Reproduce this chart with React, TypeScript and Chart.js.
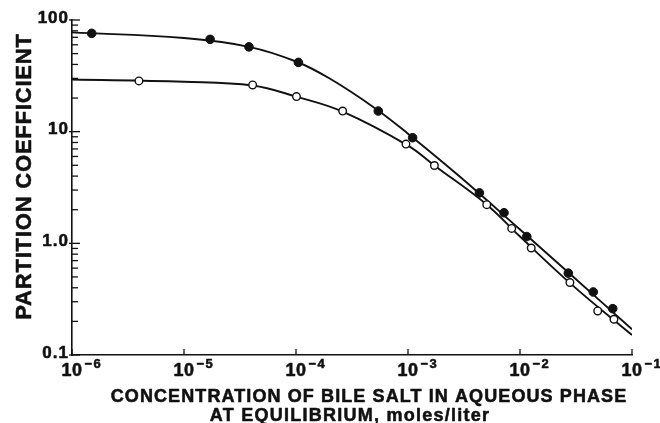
import React, { useEffect, useRef } from "react";
import { Chart, registerables } from "chart.js";

Chart.register(...registerables);

// Axis decades and their labels
const X_DECADES = [1e-6, 1e-5, 1e-4, 1e-3, 1e-2, 1e-1];
const X_EXPONENTS = ["−6", "−5", "−4", "−3", "−2", "−1"];
const Y_DECADES = [0.1, 1, 10, 100];
const Y_TICK_LABELS = ["0.1", "1.0", "10", "100"];
const Y_MINOR_STEPS = [2, 3, 4, 5, 6, 7, 8, 9];

// Measured partition coefficients (filled circles)
const filledX = [1.5e-6, 1.71e-5, 3.8e-5, 1.05e-4, 5.43e-4, 1.1e-3, 4.34e-3, 7.2e-3, 1.15e-2, 2.7e-2, 4.51e-2, 6.73e-2];
const filledY = [75.9, 67.1, 57.5, 41.7, 15.3, 8.83, 2.83, 1.88, 1.15, 0.541, 0.367, 0.26];

// Measured partition coefficients (open circles)
const openX = [3.96e-6, 4.1e-5, 1.01e-4, 2.61e-4, 9.59e-4, 1.72e-3, 5.05e-3, 8.43e-3, 1.26e-2, 2.79e-2, 4.94e-2, 6.9e-2];
const openY = [28.5, 26.2, 20.6, 15.3, 7.74, 4.98, 2.22, 1.36, 0.908, 0.446, 0.248, 0.209];

// Fitted curves drawn through each set
const filledCurveX = [1e-6, 1e-5, 3.8e-5, 1e-4, 2e-4, 5e-4, 1e-3, 3e-3, 1e-2, 3e-2, 1e-1];
const filledCurveY = [77.5, 68.9, 57.5, 42.5, 29.9, 16.4, 9.6, 3.85, 1.33, 0.499, 0.17];
const openCurveX = [1e-6, 1e-5, 4.1e-5, 1e-4, 2.61e-4, 1e-3, 1.72e-3, 5.05e-3, 1e-2, 3e-2, 1e-1];
const openCurveY = [29.3, 28.0, 25.9, 20.6, 15.1, 7.5, 4.98, 2.22, 1.15, 0.414, 0.151];

const Y_TITLE = "PARTITION COEFFICIENT";
const X_TITLE_1 = "CONCENTRATION OF BILE SALT IN AQUEOUS PHASE";
const X_TITLE_2 = "AT EQUILIBRIUM, moles/liter";

const INK = "#111";
const FONT = '"Liberation Sans", Arial, Helvetica, sans-serif';

const zip = (xs: number[], ys: number[]) => xs.map((x, i) => ({ x, y: ys[i] }));

// Filled text with a thin outline so the lettering reads heavy
function heavyText(ctx: CanvasRenderingContext2D, text: string, x: number, y: number) {
  ctx.fillText(text, x, y);
  ctx.lineWidth = 0.55;
  ctx.strokeText(text, x, y);
}

// Draws inward tick marks, tick labels and axis titles
const axisDecor = {
  id: "axisDecor",
  afterDraw(chart: any) {
    const { ctx, chartArea } = chart;
    const xs = chart.scales.x;
    const ys = chart.scales.y;
    const left = chartArea.left;
    const bottom = chartArea.bottom;
    ctx.save();
    ctx.strokeStyle = INK;
    ctx.fillStyle = INK;
    ctx.lineJoin = "round";

    // y ticks: majors and minors pointing into the plot
    ctx.lineWidth = 1.3;
    Y_DECADES.forEach((d, i) => {
      const py = ys.getPixelForValue(d);
      ctx.beginPath();
      ctx.moveTo(left - 3, py);
      ctx.lineTo(left + 8, py);
      ctx.stroke();
      if (i < Y_DECADES.length - 1) {
        Y_MINOR_STEPS.forEach((m) => {
          const my = ys.getPixelForValue(d * m);
          ctx.beginPath();
          ctx.moveTo(left, my);
          ctx.lineTo(left + 6, my);
          ctx.stroke();
        });
      }
    });

    // x ticks at each decade
    X_DECADES.forEach((d) => {
      const px = xs.getPixelForValue(d);
      ctx.beginPath();
      ctx.moveTo(px, bottom);
      ctx.lineTo(px, bottom - 6);
      ctx.stroke();
    });

    // y tick labels
    ctx.font = `bold 17px ${FONT}`;
    (ctx as any).letterSpacing = "1px";
    ctx.textAlign = "right";
    ctx.textBaseline = "middle";
    Y_DECADES.forEach((d, i) => {
      const py = ys.getPixelForValue(d);
      heavyText(ctx, Y_TICK_LABELS[i], left - 3, py - 2);
    });

    // x tick labels: 10 with a raised exponent
    ctx.textBaseline = "alphabetic";
    X_DECADES.forEach((d, i) => {
      const px = xs.getPixelForValue(d);
      ctx.font = `bold 18px ${FONT}`;
      (ctx as any).letterSpacing = "0.5px";
      ctx.textAlign = "center";
      heavyText(ctx, "10", px, bottom + 21);
      const w = ctx.measureText("10").width;
      ctx.font = `bold 13px ${FONT}`;
      (ctx as any).letterSpacing = "1.5px";
      ctx.textAlign = "left";
      heavyText(ctx, X_EXPONENTS[i], px + w / 2 + 2, bottom + 13);
    });

    // x title, two lines
    const cx = (chartArea.left + chartArea.right) / 2;
    ctx.textAlign = "center";
    ctx.font = `bold 18px ${FONT}`;
    (ctx as any).letterSpacing = "1.1px";
    heavyText(ctx, X_TITLE_1, cx + 17, bottom + 47);
    (ctx as any).letterSpacing = "1.25px";
    heavyText(ctx, X_TITLE_2, cx - 2, bottom + 66);

    // y title, rotated
    const cy = (chartArea.top + chartArea.bottom) / 2;
    ctx.translate(31, cy - 11);
    ctx.rotate(-Math.PI / 2);
    ctx.font = `bold 22px ${FONT}`;
    (ctx as any).letterSpacing = "0.8px";
    ctx.textAlign = "center";
    ctx.textBaseline = "alphabetic";
    heavyText(ctx, Y_TITLE, 0, 0);
    ctx.restore();
  },
};

export default function App() {
  const canvasRef = useRef<HTMLCanvasElement | null>(null);

  useEffect(() => {
    const canvas = canvasRef.current;
    if (!canvas) return;
    const chart = new Chart(canvas, {
      type: "line",
      data: {
        datasets: [
          {
            label: "filled",
            data: zip(filledX, filledY),
            showLine: false,
            pointRadius: 4.3,
            pointBackgroundColor: INK,
            pointBorderColor: INK,
            pointBorderWidth: 1,
            order: 0,
          },
          {
            label: "open",
            data: zip(openX, openY),
            showLine: false,
            pointRadius: 3.8,
            pointBackgroundColor: "#fff",
            pointBorderColor: INK,
            pointBorderWidth: 1.4,
            order: 0,
          },
          {
            label: "filled fit",
            data: zip(filledCurveX, filledCurveY),
            borderColor: INK,
            borderWidth: 1.9,
            pointRadius: 0,
            tension: 0.4,
            fill: false,
            order: 1,
          },
          {
            label: "open fit",
            data: zip(openCurveX, openCurveY),
            borderColor: INK,
            borderWidth: 1.9,
            pointRadius: 0,
            tension: 0.4,
            fill: false,
            order: 1,
          },
        ],
      },
      options: {
        responsive: false,
        animation: false,
        events: [],
        layout: { padding: { top: 20, right: 28, left: 0, bottom: 0 } },
        plugins: {
          legend: { display: false },
          tooltip: { enabled: false },
        },
        scales: {
          x: {
            type: "logarithmic",
            min: 1e-6,
            max: 1e-1,
            grid: { display: false },
            ticks: { display: false },
            border: { display: true, color: INK, width: 1.6 },
            afterFit: (scale: any) => {
              scale.height = 68;
            },
          },
          y: {
            type: "logarithmic",
            min: 0.1,
            max: 100,
            grid: { display: false },
            ticks: { display: false },
            border: { display: true, color: INK, width: 1.6 },
            afterFit: (scale: any) => {
              scale.width = 72;
            },
          },
        },
      },
      plugins: [axisDecor],
    });
    return () => chart.destroy();
  }, []);

  return (
    <div style={{ position: "absolute", left: 0, top: 0, width: 660, height: 423, background: "#fff" }}>
      <canvas ref={canvasRef} width={660} height={423} style={{ display: "block" }} />
    </div>
  );
}
